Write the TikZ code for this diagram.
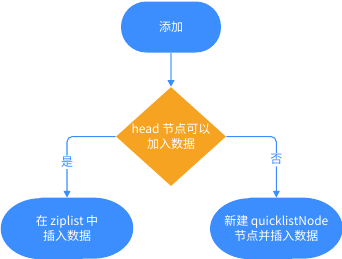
\documentclass[tikz,border=0pt]{standalone}
\usepackage{fontspec}
\setmainfont{Noto Sans CJK SC}
\usepackage{xcolor}
\usetikzlibrary{positioning, arrows.meta, shapes.geometric, backgrounds}

\definecolor{flowblue}{HTML}{3C8EFF}
\definecolor{linkblue}{HTML}{8CC0FF}
\definecolor{flowgold}{HTML}{F5A320}

\begin{document}
\begin{tikzpicture}[
		>={Triangle[length=5pt, width=5pt, color=flowblue]}, % blaue Pfeilspitzen
		every node/.style={font=\fontsize{9}{11.5}\selectfont},
		term/.style={
			fill=flowblue,
			text=white,
			rectangle,
			rounded corners=19pt,
			inner sep=0pt,
			align=center},
		oval/.style={
			text=white,
			rectangle,
			minimum width=99pt,
			minimum height=45.75pt,
			inner sep=0pt,
			align=center},
		ovalfill/.style={
			fill=flowblue},
		decision/.style={
			fill=flowgold,
			text=white,
			diamond,
			aspect=1.11,
			minimum width=82.5pt,
			minimum height=74.25pt,
			inner sep=0pt,
			align=center},
		link/.style={
			draw=flowblue,
			line width=0.8pt,
			rounded corners=4pt},
		tag/.style={
			fill=white,
			text=flowblue,
			inner sep=1pt}
		]
		\useasboundingbox (0,0) rectangle (256.5pt,-193.5pt);
		
		% Start
		\node[term, minimum width=75pt, minimum height=38.25pt] (add) at (128.25pt,-20.25pt) {添加};
		
		% Entscheidung
		\node[decision] (check) [below=25.5pt of add] {
			head 节点可以 \\
			加入数据
		};
		
		% Ja-Zweig
		\node[oval] (insert) [below=8.5pt of check, xshift=-78pt] {
			在 ziplist 中 \\
			插入数据
		};
		
		% Nein-Zweig
		\node[oval] (create) [below=8.5pt of check, xshift=79pt] {
			新建 quicklistNode \\
			节点并插入数据
		};
		
		% Flaechen der Ovale
		\begin{scope}[on background layer]
			\foreach \n in {insert, create}
			\fill[ovalfill] ([xshift=30pt]\n.north west) -- ([xshift=-30pt]\n.north east)
			arc[start angle=90, end angle=-90, x radius=30pt, y radius=22.875pt]
			-- ([xshift=30pt]\n.south west)
			arc[start angle=270, end angle=90, x radius=30pt, y radius=22.875pt] -- cycle;
		\end{scope}
		
		% Verbindungen
		\draw[->, draw=linkblue, line width=1.2pt] (add) -- (check);
		\draw[->, link] (check.west) -| node[tag, pos=0.71] {是} (insert.north);
		\draw[->, link] (check.east) -| node[tag, pos=0.69] {否} (create.north);
		
	\end{tikzpicture}
\end{document}
